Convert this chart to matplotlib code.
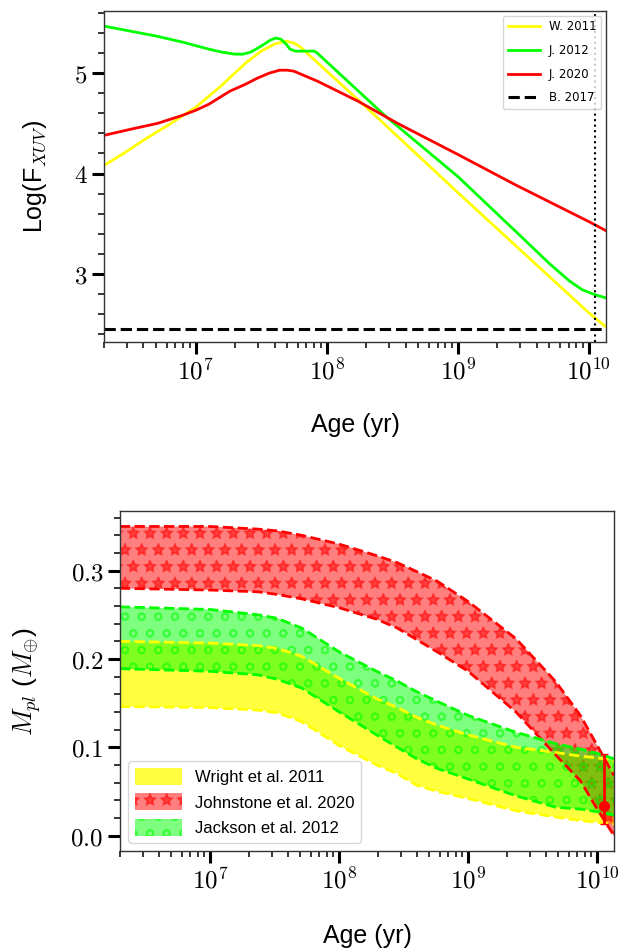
import numpy as np
import matplotlib
matplotlib.use("Agg")
import matplotlib.pyplot as plt
from matplotlib.ticker import MultipleLocator, LogLocator, FuncFormatter, NullFormatter

plt.rcParams['mathtext.fontset'] = 'cm'
plt.rcParams['font.family'] = ['Liberation Sans', 'DejaVu Sans']
plt.rcParams['hatch.linewidth'] = 1.3

# ---- top panel: log XUV flux vs age (log10 age)
lage_w11 = [6.30, 6.45, 6.60, 6.80, 7.00, 7.20, 7.38, 7.50, 7.60, 7.69, 7.75, 7.80,
            8.36, 9.00, 9.45, 10.00, 10.13]
logf_w11 = [4.08, 4.20, 4.33, 4.49, 4.66, 4.88, 5.10, 5.22, 5.29, 5.32, 5.30, 5.26,
            4.59, 3.81, 3.27, 2.61, 2.47]

lage_j12 = [6.30, 6.50, 6.70, 6.90, 7.10, 7.20, 7.30, 7.36, 7.42, 7.50, 7.57, 7.61,
            7.65, 7.69, 7.72, 7.76, 7.90, 7.92, 8.45, 9.00, 9.50, 9.70, 9.85, 9.95,
            10.05, 10.13]
logf_j12 = [5.47, 5.42, 5.37, 5.31, 5.24, 5.21, 5.19, 5.19, 5.21, 5.27, 5.33, 5.35,
            5.34, 5.29, 5.24, 5.22, 5.22, 5.21, 4.57, 3.97, 3.35, 3.10, 2.93, 2.84,
            2.79, 2.76]

lage_j20 = [6.30, 6.50, 6.71, 6.90, 7.00, 7.10, 7.26, 7.38, 7.47, 7.56, 7.64, 7.70,
            7.75, 7.93, 8.24, 8.54, 9.00, 9.45, 10.00, 10.13]
logf_j20 = [4.38, 4.44, 4.50, 4.58, 4.63, 4.69, 4.82, 4.89, 4.95, 5.00, 5.03, 5.03,
            5.02, 4.92, 4.72, 4.50, 4.19, 3.88, 3.52, 3.43]

logf_b17 = 2.45
age_star = 1.12e10
age_lim = (2e6, 1.35e10)

# ---- bottom panel: planet mass bands
lage_m = [6.30, 7.00, 7.37, 7.52, 7.71, 8.00, 8.29, 8.45, 8.60, 8.76, 9.00, 9.37,
          9.68, 9.87, 10.00, 10.13]
w11_hi = [0.220, 0.218, 0.215, 0.212, 0.203, 0.178, 0.155, 0.145, 0.134, 0.125,
          0.114, 0.100, 0.094, 0.090, 0.088, 0.085]
w11_lo = [0.146, 0.145, 0.142, 0.139, 0.129, 0.102, 0.080, 0.070, 0.057, 0.050,
          0.042, 0.028, 0.021, 0.017, 0.015, 0.013]
j20_hi = [0.350, 0.350, 0.347, 0.345, 0.340, 0.330, 0.317, 0.309, 0.299, 0.288,
          0.265, 0.223, 0.174, 0.136, 0.102, 0.068]
j20_lo = [0.280, 0.278, 0.276, 0.273, 0.268, 0.258, 0.245, 0.235, 0.222, 0.208,
          0.186, 0.140, 0.091, 0.062, 0.030, 0.000]
j12_hi = [0.259, 0.256, 0.250, 0.246, 0.235, 0.208, 0.186, 0.175, 0.163, 0.152,
          0.136, 0.117, 0.104, 0.098, 0.093, 0.087]
j12_lo = [0.189, 0.186, 0.182, 0.177, 0.167, 0.140, 0.114, 0.100, 0.087, 0.076,
          0.064, 0.045, 0.032, 0.030, 0.027, 0.023]

m_obs = 0.034
m_err = [[0.021], [0.058]]


def style_axis(ax):
    ax.set_xscale('log')
    ax.set_xlim(*age_lim)
    ax.xaxis.set_major_locator(LogLocator(base=10))
    ax.xaxis.set_minor_locator(LogLocator(base=10, subs=np.arange(2, 10)))
    ax.xaxis.set_minor_formatter(NullFormatter())
    ax.xaxis.set_major_formatter(FuncFormatter(lambda v, p: r'$10^{%d}$' % round(np.log10(v))))
    ax.tick_params(which='major', direction='out', length=8.5, width=2.2, labelsize=18)
    ax.tick_params(which='minor', direction='out', length=4.5, width=1.1)
    ax.tick_params(top=False, right=False)
    for s in ax.spines.values():
        s.set_color('#333333')
        s.set_linewidth(1.0)


fig = plt.figure(figsize=(6.22, 9.5), dpi=100)

ax1 = fig.add_axes([0.1672, 0.64, 0.8071, 0.3484])
ax1.plot(10 ** np.array(lage_w11), logf_w11, color='yellow', lw=2, label='W. 2011')
ax1.plot(10 ** np.array(lage_j12), logf_j12, color='lime', lw=2, label='J. 2012')
ax1.plot(10 ** np.array(lage_j20), logf_j20, color='red', lw=2, label='J. 2020')
ax1.axhline(logf_b17, color='black', ls='--', lw=2.2, label='B. 2017')
ax1.axvline(age_star, color='black', ls=':', lw=1.5)
style_axis(ax1)
ax1.yaxis.set_major_locator(MultipleLocator(1))
ax1.yaxis.set_minor_locator(MultipleLocator(0.2))
ax1.yaxis.set_major_formatter(FuncFormatter(lambda v, p: r'$%d$' % round(v)))
ax1.set_ylabel(r'Log(F$_{XUV}$)', fontsize=18)
ax1.yaxis.set_label_coords(-0.11, 0.5)
ax1.set_xlabel('Age (yr)', fontsize=18)
ax1.xaxis.set_label_coords(0.5, -0.215)
ax1.legend(loc='upper right', prop={'family': 'DejaVu Sans', 'size': 8.5},
           handlelength=2.7, labelspacing=0.9, borderaxespad=0.4)

ax2 = fig.add_axes([0.1929, 0.1042, 0.7942, 0.3579])
age_m = 10 ** np.array(lage_m)
ax2.fill_between(age_m, w11_lo, w11_hi, facecolor='yellow', alpha=0.75, lw=0,
                 label='Wright et al. 2011')
ax2.fill_between(age_m, j20_lo, j20_hi, facecolor='red', edgecolor='red', alpha=0.5,
                 lw=0, hatch='*', label='Johnstone et al. 2020')
ax2.fill_between(age_m, j12_lo, j12_hi, facecolor='lime', edgecolor='lime', alpha=0.5,
                 lw=0, hatch='o', label='Jackson et al. 2012')
for lo, hi, c in [(w11_lo, w11_hi, 'yellow'), (j20_lo, j20_hi, 'red'),
                  (j12_lo, j12_hi, 'lime')]:
    ax2.plot(age_m, lo, color=c, ls='--', lw=2)
    ax2.plot(age_m, hi, color=c, ls='--', lw=2)
ax2.errorbar([age_star], [m_obs], yerr=m_err, fmt='o', color='red', ms=7,
             capsize=3, elinewidth=2, zorder=5)
style_axis(ax2)
ax2.yaxis.set_major_locator(MultipleLocator(0.1))
ax2.yaxis.set_minor_locator(MultipleLocator(0.02))
ax2.yaxis.set_major_formatter(FuncFormatter(lambda v, p: r'$%.1f$' % v))
ax2.set_ylabel(r'$M_{pl}$ ($M_{\oplus}$)', fontsize=19)
ax2.yaxis.set_label_coords(-0.155, 0.5)
ax2.set_xlabel('Age (yr)', fontsize=18)
ax2.xaxis.set_label_coords(0.5, -0.215)
ax2.legend(loc='lower left', fontsize=12, handlelength=2.8, handleheight=1.2)

fig.savefig('out.png', dpi=100)
